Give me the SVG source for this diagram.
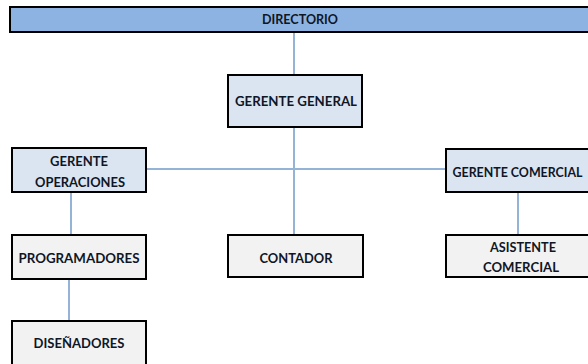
<svg xmlns="http://www.w3.org/2000/svg" width="588" height="364" viewBox="0 0 588 364">
<style>
.box{stroke:#000;stroke-width:2}
.dir{fill:#8db3e2}
.mgr{fill:#dbe5f1}
.std{fill:#f2f2f2}
.t{font-family:Lato,"Open Sans","DejaVu Sans",sans-serif;font-weight:bold;font-size:14px;fill:#0f1626;text-anchor:middle}
.c{stroke:#95b3d7;stroke-width:2;fill:none}
</style>
<rect width="588" height="364" fill="#fff"/>
<g id="connectors">
<line class="c" x1="294" y1="32" x2="294" y2="75"/>
<line class="c" x1="294" y1="127" x2="294" y2="235"/>
<line class="c" x1="146" y1="169" x2="446" y2="169" stroke-width="1.5"/>
<line class="c" x1="71" y1="192" x2="71" y2="235"/>
<line class="c" x1="69" y1="279" x2="69" y2="321"/>
<line class="c" x1="518" y1="192" x2="518" y2="235"/>
</g>
<g id="directorio">
<rect class="box dir" x="10" y="7" width="590" height="25"/>
<text class="t" x="300" y="24" textLength="76" lengthAdjust="spacingAndGlyphs">DIRECTORIO</text>
</g>
<g id="gerente-general">
<rect class="box mgr" x="228" y="75" width="134" height="52"/>
<text class="t" x="296" y="106" textLength="122" lengthAdjust="spacingAndGlyphs">GERENTE GENERAL</text>
</g>
<g id="gerente-operaciones">
<rect class="box mgr" x="12" y="148" width="134" height="44"/>
<text class="t" x="79" y="165.5" textLength="58" lengthAdjust="spacingAndGlyphs">GERENTE</text>
<text class="t" x="80" y="186.5" textLength="90" lengthAdjust="spacingAndGlyphs">OPERACIONES</text>
</g>
<g id="gerente-comercial">
<rect class="box mgr" x="446" y="149" width="152" height="43"/>
<text class="t" x="517.5" y="176.5" textLength="130" lengthAdjust="spacingAndGlyphs">GERENTE COMERCIAL</text>
</g>
<g id="programadores">
<rect class="box std" x="12" y="235" width="134" height="44"/>
<text class="t" x="79" y="262.5" textLength="121" lengthAdjust="spacingAndGlyphs">PROGRAMADORES</text>
</g>
<g id="contador">
<rect class="box std" x="228" y="235" width="135" height="42"/>
<text class="t" x="296" y="262.5" textLength="73" lengthAdjust="spacingAndGlyphs">CONTADOR</text>
</g>
<g id="asistente-comercial">
<rect class="box std" x="446" y="235" width="152" height="42"/>
<text class="t" x="523" y="251.5" textLength="66" lengthAdjust="spacingAndGlyphs">ASISTENTE</text>
<text class="t" x="521" y="272" textLength="76" lengthAdjust="spacingAndGlyphs">COMERCIAL</text>
</g>
<g id="disenadores">
<rect class="box std" x="12" y="321" width="134" height="50"/>
<text class="t" x="79" y="347.5" textLength="91" lengthAdjust="spacingAndGlyphs">DISEÑADORES</text>
</g>
</svg>
